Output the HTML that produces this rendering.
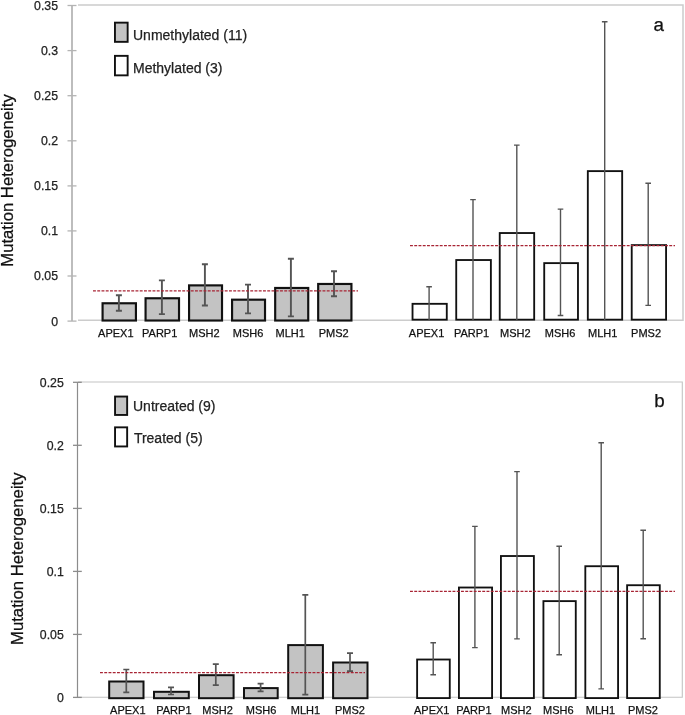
<!DOCTYPE html><html><head><meta charset="utf-8"><style>html,body{margin:0;padding:0;background:#fff;}svg{display:block;will-change:transform;}text{font-family:"Liberation Sans", sans-serif;}</style></head><body>
<svg width="685" height="715" viewBox="0 0 685 715">
<rect x="0" y="0" width="685" height="715" fill="#fff"/>
<path d="M78 5H683V320.2H78" fill="none" stroke="#cccccc" stroke-width="1.5"/>
<line x1="72" y1="5.5" x2="72" y2="321" stroke="#b4b4b4" stroke-width="1.75"/>
<line x1="67.5" y1="5.5" x2="76.5" y2="5.5" stroke="#b4b4b4" stroke-width="1.3"/>
<text x="58" y="9.9" text-anchor="end"  font-size="12.3" fill="#222" stroke="#222" stroke-width="0.25">0.35</text>
<line x1="67.5" y1="50.6" x2="76.5" y2="50.6" stroke="#b4b4b4" stroke-width="1.3"/>
<text x="58" y="55" text-anchor="end"  font-size="12.3" fill="#222" stroke="#222" stroke-width="0.25">0.3</text>
<line x1="67.5" y1="95.7" x2="76.5" y2="95.7" stroke="#b4b4b4" stroke-width="1.3"/>
<text x="58" y="100.1" text-anchor="end"  font-size="12.3" fill="#222" stroke="#222" stroke-width="0.25">0.25</text>
<line x1="67.5" y1="140.8" x2="76.5" y2="140.8" stroke="#b4b4b4" stroke-width="1.3"/>
<text x="58" y="145.2" text-anchor="end"  font-size="12.3" fill="#222" stroke="#222" stroke-width="0.25">0.2</text>
<line x1="67.5" y1="185.9" x2="76.5" y2="185.9" stroke="#b4b4b4" stroke-width="1.3"/>
<text x="58" y="190.3" text-anchor="end"  font-size="12.3" fill="#222" stroke="#222" stroke-width="0.25">0.15</text>
<line x1="67.5" y1="230.9" x2="76.5" y2="230.9" stroke="#b4b4b4" stroke-width="1.3"/>
<text x="58" y="235.3" text-anchor="end"  font-size="12.3" fill="#222" stroke="#222" stroke-width="0.25">0.1</text>
<line x1="67.5" y1="276" x2="76.5" y2="276" stroke="#b4b4b4" stroke-width="1.3"/>
<text x="58" y="280.4" text-anchor="end"  font-size="12.3" fill="#222" stroke="#222" stroke-width="0.25">0.05</text>
<line x1="67.5" y1="321.1" x2="76.5" y2="321.1" stroke="#b4b4b4" stroke-width="1.3"/>
<text x="58" y="325.5" text-anchor="end"  font-size="12.3" fill="#222" stroke="#222" stroke-width="0.25">0</text>
<text transform="translate(13 180.5) rotate(-90)" text-anchor="middle"  font-size="16.7" fill="#111" stroke="#111" stroke-width="0.25">Mutation Heterogeneity</text>
<text x="653.6" y="30.6"  font-size="18.8" fill="#111" stroke="#111" stroke-width="0.25">a</text>
<rect x="114.95" y="22.65" width="12.7" height="19.2" fill="#c3c3c3" stroke="#111" stroke-width="1.9"/>
<text x="133" y="39.5"  font-size="14" fill="#222" stroke="#222" stroke-width="0.25">Unmethylated (11)</text>
<rect x="114.95" y="55.85" width="12.7" height="19.5" fill="#ffffff" stroke="#111" stroke-width="1.9"/>
<text x="133" y="72.7"  font-size="14" fill="#222" stroke="#222" stroke-width="0.25">Methylated (3)</text>
<rect x="102.58" y="303.27" width="33.35" height="17.25" fill="#c3c3c3" stroke="#111" stroke-width="2.15"/>
<rect x="145.57" y="298.27" width="33.45" height="22.25" fill="#c3c3c3" stroke="#111" stroke-width="2.15"/>
<rect x="189.07" y="285.38" width="32.95" height="35.15" fill="#c3c3c3" stroke="#111" stroke-width="2.15"/>
<rect x="232.07" y="299.68" width="32.95" height="20.85" fill="#c3c3c3" stroke="#111" stroke-width="2.15"/>
<rect x="275.18" y="287.97" width="33.05" height="32.55" fill="#c3c3c3" stroke="#111" stroke-width="2.15"/>
<rect x="318.18" y="283.97" width="33.25" height="36.55" fill="#c3c3c3" stroke="#111" stroke-width="2.15"/>
<path d="M118.9 295.3V310.8M115.9 295.3H121.9M115.9 310.8H121.9" stroke="#545454" stroke-width="1.9" fill="none"/>
<path d="M161.9 280.4V314.1M158.9 280.4H164.9M158.9 314.1H164.9" stroke="#545454" stroke-width="1.9" fill="none"/>
<path d="M204.9 264.2V305.5M201.9 264.2H207.9M201.9 305.5H207.9" stroke="#545454" stroke-width="1.9" fill="none"/>
<path d="M248 284.6V313.4M245 284.6H251M245 313.4H251" stroke="#545454" stroke-width="1.9" fill="none"/>
<path d="M290.9 258.8V316.4M287.9 258.8H293.9M287.9 316.4H293.9" stroke="#545454" stroke-width="1.9" fill="none"/>
<path d="M334 271.3V296.3M331 271.3H337M331 296.3H337" stroke="#545454" stroke-width="1.9" fill="none"/>
<rect x="412.53" y="303.82" width="34.25" height="15.85" fill="#fff" stroke="#111" stroke-width="1.85"/>
<rect x="456.23" y="260.03" width="34.65" height="59.65" fill="#fff" stroke="#111" stroke-width="1.85"/>
<rect x="499.73" y="233.03" width="34.45" height="86.65" fill="#fff" stroke="#111" stroke-width="1.85"/>
<rect x="544.22" y="263.12" width="33.75" height="56.55" fill="#fff" stroke="#111" stroke-width="1.85"/>
<rect x="587.82" y="171.12" width="34.35" height="148.55" fill="#fff" stroke="#111" stroke-width="1.85"/>
<rect x="631.72" y="245.12" width="34.35" height="74.55" fill="#fff" stroke="#111" stroke-width="1.85"/>
<path d="M429.1 286.7V320M426.3 286.7H431.9" stroke="#545454" stroke-width="1.4" fill="none"/>
<path d="M473 199.6V320M470.2 199.6H475.8" stroke="#545454" stroke-width="1.4" fill="none"/>
<path d="M516.8 145.1V320M514 145.1H519.6" stroke="#545454" stroke-width="1.4" fill="none"/>
<path d="M560.5 209.1V315.5M557.7 209.1H563.3M557.7 315.5H563.3" stroke="#545454" stroke-width="1.4" fill="none"/>
<path d="M604.7 21.8V320M601.9 21.8H607.5" stroke="#545454" stroke-width="1.4" fill="none"/>
<path d="M648.2 183.3V305.4M645.4 183.3H651M645.4 305.4H651" stroke="#545454" stroke-width="1.4" fill="none"/>
<line x1="93" y1="290.8" x2="358" y2="290.8" stroke="#a82434" stroke-width="1.25" stroke-dasharray="2.9 1.35"/>
<line x1="410" y1="245.5" x2="675" y2="245.5" stroke="#a82434" stroke-width="1.25" stroke-dasharray="2.9 1.35"/>
<text x="115.8" y="336.6" text-anchor="middle"  font-size="11" fill="#111" stroke="#111" stroke-width="0.25">APEX1</text>
<text x="159.7" y="336.6" text-anchor="middle"  font-size="11" fill="#111" stroke="#111" stroke-width="0.25">PARP1</text>
<text x="204.3" y="336.6" text-anchor="middle"  font-size="11" fill="#111" stroke="#111" stroke-width="0.25">MSH2</text>
<text x="248" y="336.6" text-anchor="middle"  font-size="11" fill="#111" stroke="#111" stroke-width="0.25">MSH6</text>
<text x="290.2" y="336.6" text-anchor="middle"  font-size="11" fill="#111" stroke="#111" stroke-width="0.25">MLH1</text>
<text x="333.7" y="336.6" text-anchor="middle"  font-size="11" fill="#111" stroke="#111" stroke-width="0.25">PMS2</text>
<text x="426.6" y="336.6" text-anchor="middle"  font-size="11" fill="#111" stroke="#111" stroke-width="0.25">APEX1</text>
<text x="471.6" y="336.6" text-anchor="middle"  font-size="11" fill="#111" stroke="#111" stroke-width="0.25">PARP1</text>
<text x="515.3" y="336.6" text-anchor="middle"  font-size="11" fill="#111" stroke="#111" stroke-width="0.25">MSH2</text>
<text x="560" y="336.6" text-anchor="middle"  font-size="11" fill="#111" stroke="#111" stroke-width="0.25">MSH6</text>
<text x="602.7" y="336.6" text-anchor="middle"  font-size="11" fill="#111" stroke="#111" stroke-width="0.25">MLH1</text>
<text x="646.1" y="336.6" text-anchor="middle"  font-size="11" fill="#111" stroke="#111" stroke-width="0.25">PMS2</text>
<path d="M78 382H682.3V697.3H78" fill="none" stroke="#c4c4c4" stroke-width="1.1"/>
<line x1="77.5" y1="382.3" x2="77.5" y2="697.4" stroke="#8c8c8c" stroke-width="1.2"/>
<line x1="73" y1="382.3" x2="81.8" y2="382.3" stroke="#8c8c8c" stroke-width="1.3"/>
<text x="63.8" y="386.7" text-anchor="end"  font-size="12.3" fill="#222" stroke="#222" stroke-width="0.25">0.25</text>
<line x1="73" y1="445.3" x2="81.8" y2="445.3" stroke="#8c8c8c" stroke-width="1.3"/>
<text x="63.8" y="449.7" text-anchor="end"  font-size="12.3" fill="#222" stroke="#222" stroke-width="0.25">0.2</text>
<line x1="73" y1="508.4" x2="81.8" y2="508.4" stroke="#8c8c8c" stroke-width="1.3"/>
<text x="63.8" y="512.8" text-anchor="end"  font-size="12.3" fill="#222" stroke="#222" stroke-width="0.25">0.15</text>
<line x1="73" y1="571.4" x2="81.8" y2="571.4" stroke="#8c8c8c" stroke-width="1.3"/>
<text x="63.8" y="575.8" text-anchor="end"  font-size="12.3" fill="#222" stroke="#222" stroke-width="0.25">0.1</text>
<line x1="73" y1="634.4" x2="81.8" y2="634.4" stroke="#8c8c8c" stroke-width="1.3"/>
<text x="63.8" y="638.8" text-anchor="end"  font-size="12.3" fill="#222" stroke="#222" stroke-width="0.25">0.05</text>
<line x1="73" y1="697.4" x2="81.8" y2="697.4" stroke="#8c8c8c" stroke-width="1.3"/>
<text x="63.8" y="701.8" text-anchor="end"  font-size="12.3" fill="#222" stroke="#222" stroke-width="0.25">0</text>
<text transform="translate(23.3 558.7) rotate(-90)" text-anchor="middle"  font-size="16.7" fill="#111" stroke="#111" stroke-width="0.25">Mutation Heterogeneity</text>
<text x="654.2" y="406.9"  font-size="18.8" fill="#111" stroke="#111" stroke-width="0.25">b</text>
<rect x="115.05" y="396.55" width="12.1" height="18.4" fill="#c3c3c3" stroke="#111" stroke-width="1.9"/>
<text x="133" y="411.3"  font-size="14" fill="#222" stroke="#222" stroke-width="0.25">Untreated (9)</text>
<rect x="115.05" y="427.35" width="12.1" height="19.1" fill="#ffffff" stroke="#111" stroke-width="1.9"/>
<text x="133.9" y="443"  font-size="14" fill="#222" stroke="#222" stroke-width="0.25">Treated (5)</text>
<rect x="109.2" y="681.5" width="34.3" height="16.7" fill="#c3c3c3" stroke="#111" stroke-width="2"/>
<rect x="154" y="691.8" width="34.8" height="6.4" fill="#c3c3c3" stroke="#111" stroke-width="2"/>
<rect x="199" y="675.2" width="34.6" height="23" fill="#c3c3c3" stroke="#111" stroke-width="2"/>
<rect x="244" y="688.1" width="33.7" height="10.1" fill="#c3c3c3" stroke="#111" stroke-width="2"/>
<rect x="288.2" y="645.1" width="34.7" height="53.1" fill="#c3c3c3" stroke="#111" stroke-width="2"/>
<rect x="333.1" y="662.5" width="34.4" height="35.7" fill="#c3c3c3" stroke="#111" stroke-width="2"/>
<path d="M126.3 669.5V692.3M123.3 669.5H129.3M123.3 692.3H129.3" stroke="#545454" stroke-width="1.7" fill="none"/>
<path d="M171 687.3V694.5M168 687.3H174M168 694.5H174" stroke="#545454" stroke-width="1.7" fill="none"/>
<path d="M215.8 664.2V685.2M212.8 664.2H218.8M212.8 685.2H218.8" stroke="#545454" stroke-width="1.7" fill="none"/>
<path d="M260.6 683.7V691.3M257.6 683.7H263.6M257.6 691.3H263.6" stroke="#545454" stroke-width="1.7" fill="none"/>
<path d="M305.3 594.9V694.6M302.3 594.9H308.3M302.3 694.6H308.3" stroke="#545454" stroke-width="1.7" fill="none"/>
<path d="M350 653.1V671.2M347 653.1H353M347 671.2H353" stroke="#545454" stroke-width="1.7" fill="none"/>
<rect x="417.12" y="659.52" width="32.65" height="38.55" fill="#fff" stroke="#111" stroke-width="1.85"/>
<rect x="458.93" y="587.52" width="33.15" height="110.55" fill="#fff" stroke="#111" stroke-width="1.85"/>
<rect x="500.93" y="556.02" width="32.95" height="142.05" fill="#fff" stroke="#111" stroke-width="1.85"/>
<rect x="543.42" y="601.12" width="32.35" height="96.95" fill="#fff" stroke="#111" stroke-width="1.85"/>
<rect x="585.32" y="566.22" width="32.75" height="131.85" fill="#fff" stroke="#111" stroke-width="1.85"/>
<rect x="627.12" y="585.22" width="32.65" height="112.85" fill="#fff" stroke="#111" stroke-width="1.85"/>
<path d="M433.2 642.7V674.7M430.4 642.7H436M430.4 674.7H436" stroke="#545454" stroke-width="1.4" fill="none"/>
<path d="M474.9 526.4V647.6M472.1 526.4H477.7M472.1 647.6H477.7" stroke="#545454" stroke-width="1.4" fill="none"/>
<path d="M517 471.6V638.9M514.2 471.6H519.8M514.2 638.9H519.8" stroke="#545454" stroke-width="1.4" fill="none"/>
<path d="M559.2 546.3V654.8M556.4 546.3H562M556.4 654.8H562" stroke="#545454" stroke-width="1.4" fill="none"/>
<path d="M601.2 442.8V688.9M598.4 442.8H604M598.4 688.9H604" stroke="#545454" stroke-width="1.4" fill="none"/>
<path d="M643.2 530.2V638.7M640.4 530.2H646M640.4 638.7H646" stroke="#545454" stroke-width="1.4" fill="none"/>
<line x1="100" y1="672.5" x2="365" y2="672.5" stroke="#a82434" stroke-width="1.25" stroke-dasharray="2.9 1.35"/>
<line x1="410" y1="591.3" x2="675" y2="591.3" stroke="#a82434" stroke-width="1.25" stroke-dasharray="2.9 1.35"/>
<text x="127.8" y="714" text-anchor="middle"  font-size="11" fill="#111" stroke="#111" stroke-width="0.25">APEX1</text>
<text x="173.9" y="714" text-anchor="middle"  font-size="11" fill="#111" stroke="#111" stroke-width="0.25">PARP1</text>
<text x="217.6" y="714" text-anchor="middle"  font-size="11" fill="#111" stroke="#111" stroke-width="0.25">MSH2</text>
<text x="261" y="714" text-anchor="middle"  font-size="11" fill="#111" stroke="#111" stroke-width="0.25">MSH6</text>
<text x="305.5" y="714" text-anchor="middle"  font-size="11" fill="#111" stroke="#111" stroke-width="0.25">MLH1</text>
<text x="349.9" y="714" text-anchor="middle"  font-size="11" fill="#111" stroke="#111" stroke-width="0.25">PMS2</text>
<text x="431.7" y="714" text-anchor="middle"  font-size="11" fill="#111" stroke="#111" stroke-width="0.25">APEX1</text>
<text x="473.9" y="714" text-anchor="middle"  font-size="11" fill="#111" stroke="#111" stroke-width="0.25">PARP1</text>
<text x="516.4" y="714" text-anchor="middle"  font-size="11" fill="#111" stroke="#111" stroke-width="0.25">MSH2</text>
<text x="558.3" y="714" text-anchor="middle"  font-size="11" fill="#111" stroke="#111" stroke-width="0.25">MSH6</text>
<text x="600.5" y="714" text-anchor="middle"  font-size="11" fill="#111" stroke="#111" stroke-width="0.25">MLH1</text>
<text x="642.9" y="714" text-anchor="middle"  font-size="11" fill="#111" stroke="#111" stroke-width="0.25">PMS2</text>
</svg></body></html>
